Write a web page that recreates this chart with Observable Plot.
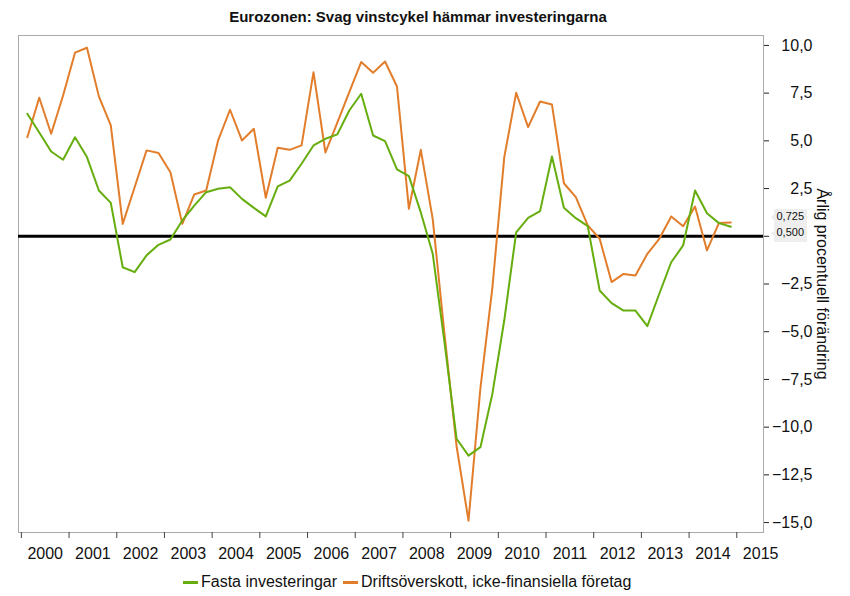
<!DOCTYPE html>
<html><head><meta charset="utf-8">
<script src="https://cdn.jsdelivr.net/npm/d3@7"></script>
<script src="https://cdn.jsdelivr.net/npm/@observablehq/plot@0.6"></script>
<style>
body{margin:0;background:#fff;font-family:"Liberation Sans",Arial,sans-serif;color:#111;}
#wrap{position:relative;width:850px;height:596px;overflow:hidden;}
#title{position:absolute;left:0;top:8px;width:836px;text-align:center;font-weight:bold;font-size:15px;line-height:18px;}
#chart{position:absolute;left:0;top:30px;}
#chart svg{display:block;}
#legend{position:absolute;left:183px;top:572px;font-size:16px;line-height:20px;display:flex;align-items:center;white-space:nowrap;}
#legend .sw{display:inline-block;width:15px;height:3px;margin-right:3px;}
#legend .item{display:flex;align-items:center;margin-right:6px;}
</style></head><body>
<div id="wrap">
<div id="title">Eurozonen: Svag vinstcykel hämmar investeringarna</div>
<div id="chart"></div>
<div id="legend"></div>
</div>
<script>
// Quarterly data, 2000 Q1 – 2014 Q4
const startYear = 2000;
const seriesNames = ["Fasta investeringar", "Driftsöverskott, icke-finansiella företag"];
const seriesColors = ["#66ad0e", "#e27d2b"];

const fastaInvesteringar = [
  6.42, 5.44, 4.44, 4.01, 5.19, 4.15, 2.40, 1.75,
  -1.62, -1.88, -1.00, -0.45, -0.17, 0.83, 1.61, 2.31,
  2.49, 2.57, 1.96, 1.49, 1.04, 2.61, 2.92, 3.80,
  4.76, 5.11, 5.34, 6.59, 7.47, 5.28, 4.99, 3.50,
  3.15, 1.25, -0.92, -5.62, -10.61, -11.49, -11.05, -8.26,
  -4.40, 0.21, 0.97, 1.32, 4.18, 1.49, 0.95, 0.53,
  -2.84, -3.50, -3.89, -3.89, -4.71, -3.01, -1.36, -0.48,
  2.40, 1.21, 0.69, 0.50
];
const driftsoverskott = [
  5.19, 7.26, 5.37, 7.38, 9.62, 9.88, 7.33, 5.81,
  0.65, 2.57, 4.50, 4.36, 3.36, 0.65, 2.19, 2.40,
  5.02, 6.63, 5.02, 5.63, 2.02, 4.64, 4.53, 4.76,
  8.60, 4.39, 5.96, 7.55, 9.13, 8.57, 9.16, 7.85,
  1.44, 4.53, 0.90, -5.20, -11.00, -14.90, -7.95, -2.70,
  4.15, 7.52, 5.72, 7.06, 6.90, 2.78, 2.05, 0.57,
  -0.13, -2.40, -1.97, -2.05, -0.92, -0.13, 1.04, 0.53,
  1.56, -0.74, 0.69, 0.725
];
const yearTicks = d3.range(2000, 2016);
const yTicks = d3.range(-15, 10.01, 2.5);
const yLabel = "Årlig procentuell förändring";
const calloutLabels = ["0,725", "0,500"];

const qx = (i) => startYear + (i + 0.5) / 4;
const greenData = fastaInvesteringar.map((v, i) => ({x: qx(i), y: v}));
const orangeData = driftsoverskott.map((v, i) => ({x: qx(i), y: v}));
const yLabelTicks = yTicks.filter(d => d !== 0);
const fmt = (d) => d3.format(".1f")(d).replace(".", ",");
const FONT = "Liberation Sans, Arial, sans-serif";

const callout = (value, label, dy) => Plot.tip
  ? Plot.tip([{y: value, label}], {
      y: "y", title: "label", frameAnchor: "right", anchor: "left", dx: 8, dy,
      fill: "#eeeeee", stroke: "#eeeeee", pathFilter: "none",
      pointerSize: 6, textPadding: 2, fontSize: 11, fontFamily: FONT
    })
  : Plot.text([{y: value, label}], {y: "y", text: "label", frameAnchor: "right", textAnchor: "start", dx: 16, dy, fontSize: 11});

const chart = Plot.plot({
  width: 850, height: 535,
  marginTop: 5, marginBottom: 33, marginLeft: 18, marginRight: 87,
  style: {fontFamily: FONT, fontSize: "16px", color: "#111", background: "#fff"},
  x: {domain: [1999.94, 2015.56], axis: null},
  y: {domain: [-15.52, 10.52], axis: null},
  marks: [
    Plot.frame({stroke: "#aaa"}),
    Plot.axisX(yearTicks, {anchor: "bottom", tickSize: 6, stroke: "#444", fill: "none", label: null}),
    Plot.axisX(yearTicks.map(d => d + 0.5), {anchor: "bottom", tickSize: 0, tickPadding: 15, fontSize: 16, tickFormat: d => String(Math.floor(d)), fill: "#111", label: null}),
    Plot.axisY(yTicks, {anchor: "right", tickSize: 5, stroke: "#222", fill: "none", label: null}),
    Plot.axisY(yLabelTicks, {anchor: "right", tickSize: 0, tickPadding: 8, textAnchor: "end", dx: 41, fontSize: 16, tickFormat: fmt, fill: "#111", label: null}),
    Plot.ruleY([0], {stroke: "black", strokeWidth: 3}),
    Plot.line(orangeData, {x: "x", y: "y", stroke: seriesColors[1], strokeWidth: 2}),
    Plot.line(greenData, {x: "x", y: "y", stroke: seriesColors[0], strokeWidth: 2}),
    Plot.text([yLabel], {text: d => d, frameAnchor: "right", textAnchor: "middle", dx: 59, rotate: 90, fontSize: 16, fill: "#111"}),
    callout(driftsoverskott[driftsoverskott.length - 1], calloutLabels[0], -5),
    callout(fastaInvesteringar[fastaInvesteringar.length - 1], calloutLabels[1], 7)
  ]
});
document.getElementById("chart").appendChild(chart);

const legend = document.getElementById("legend");
seriesNames.forEach((name, i) => {
  const item = document.createElement("span");
  item.className = "item";
  const sw = document.createElement("span");
  sw.className = "sw";
  sw.style.background = seriesColors[i];
  item.appendChild(sw);
  item.appendChild(document.createTextNode(name));
  legend.appendChild(item);
});
</script>
</body></html>
